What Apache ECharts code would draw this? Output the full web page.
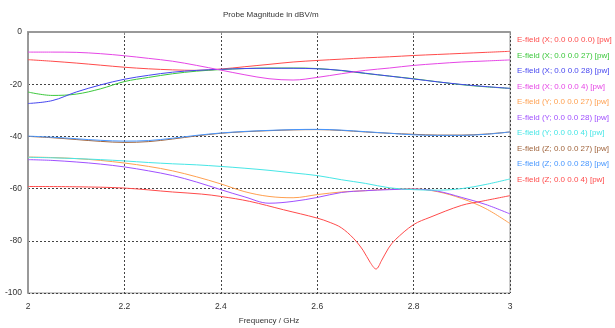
<!DOCTYPE html>
<html>
<head>
<meta charset="utf-8">
<script src="https://cdn.jsdelivr.net/npm/echarts@6/dist/echarts.min.js"></script>
<style>
  html, body { margin: 0; padding: 0; background: #fff; }
  #chart { width: 615px; height: 328px; }
</style>
</head>
<body>
<div id="chart"></div>
<script>
// frequency grid (GHz) shared by most probes
const freq = [2.0, 2.05, 2.1, 2.15, 2.2, 2.25, 2.3, 2.35, 2.4, 2.45, 2.5,
  2.55, 2.6, 2.65, 2.7, 2.75, 2.8, 2.85, 2.9, 2.95, 3.0];

const xProbe000 = [-10.6, -11.2, -11.9, -12.7, -13.5, -14.1, -14.5, -14.7, -14.2, -13.3, -12.4,
  -11.5, -10.9, -10.4, -9.9, -9.5, -9.0, -8.6, -8.2, -7.8, -7.4];
const xProbe27 = [-23.0, -24.3, -23.8, -21.8, -19.0, -17.4, -16.0, -15.0, -14.4, -14.0, -13.8,
  -13.8, -14.0, -14.8, -15.9, -16.9, -17.9, -19.1, -20.2, -21.0, -21.6];
const xProbe28 = [-27.4, -26.3, -23.0, -20.3, -18.1, -16.6, -15.4, -14.7, -14.3, -14.0, -13.9,
  -13.9, -14.1, -14.7, -15.8, -16.9, -18.0, -19.1, -20.1, -20.9, -21.6];
const xProbe4 = [-7.7, -7.7, -7.8, -8.3, -9.1, -10.1, -11.2, -12.8, -14.6, -16.4, -17.9,
  -18.4, -17.4, -16.0, -14.7, -13.8, -12.8, -12.1, -11.5, -11.1, -10.7];
const yProbe27 = [-47.9, -48.1, -48.5, -49.2, -50.2, -51.5, -53.2, -55.5, -58.2, -61.2, -63.0,
  -63.5, -62.3, -61.3, -60.8, -60.2, -60.1, -61.2, -63.8, -67.7, -73.4];
const yProbe28 = [-48.9, -49.2, -49.8, -50.6, -51.7, -53.2, -55.0, -57.5, -60.4, -63.2, -65.6,
  -64.9, -63.4, -61.5, -60.8, -60.4, -60.2, -61.0, -63.4, -66.1, -69.7];
const yProbe4 = [-48.0, -48.2, -48.5, -48.9, -49.4, -50.0, -50.5, -50.9, -51.5, -52.2, -53.0,
  -54.0, -55.0, -56.6, -58.0, -59.7, -60.4, -60.6, -60.0, -58.4, -56.3];
const zProbe27 = [-40.0, -40.5, -41.2, -41.9, -42.3, -42.0, -41.0, -39.8, -38.8, -38.2, -37.8,
  -37.5, -37.4, -37.7, -38.3, -38.8, -39.2, -39.5, -39.5, -39.1, -38.3];
const zProbe28 = [-39.9, -40.3, -40.9, -41.5, -41.8, -41.6, -40.7, -39.6, -38.7, -38.1, -37.7,
  -37.4, -37.3, -37.6, -38.2, -38.8, -39.4, -39.6, -39.6, -39.2, -38.3];

// Z probe at 0.0 0.0 0.4 has a sharp notch, read on its own frequency points
const zProbe4Freq = [2.0, 2.1, 2.2, 2.3, 2.36, 2.4, 2.46, 2.53, 2.6, 2.627, 2.65, 2.675,
  2.695, 2.71, 2.722, 2.734, 2.748, 2.762, 2.8, 2.834, 2.9, 2.94, 3.0];
const zProbe4 = [-59.2, -59.3, -59.8, -61.3, -62.1, -63.0, -64.9, -68.1, -71.3, -73.0, -75.0, -79.0,
  -83.6, -88.3, -90.8, -87.4, -82.8, -79.6, -73.8, -71.0, -66.4, -64.9, -62.7];

const xTicks = [2, 2.2, 2.4, 2.6, 2.8, 3];

const probes = [
  { name: "E-field (X; 0.0 0.0 0.0) [pw]", color: "#ff4b4b", x: freq, y: xProbe000 },
  { name: "E-field (X; 0.0 0.0 27) [pw]", color: "#3cc83c", x: freq, y: xProbe27 },
  { name: "E-field (X; 0.0 0.0 28) [pw]", color: "#4646f0", x: freq, y: xProbe28 },
  { name: "E-field (X; 0.0 0.0 4) [pw]", color: "#e646e6", x: freq, y: xProbe4 },
  { name: "E-field (Y; 0.0 0.0 27) [pw]", color: "#ffa050", x: freq, y: yProbe27 },
  { name: "E-field (Y; 0.0 0.0 28) [pw]", color: "#a050ff", x: freq, y: yProbe28 },
  { name: "E-field (Y; 0.0 0.0 4) [pw]", color: "#46e6e6", x: freq, y: yProbe4 },
  { name: "E-field (Z; 0.0 0.0 27) [pw]", color: "#a0643c", x: freq, y: zProbe27 },
  { name: "E-field (Z; 0.0 0.0 28) [pw]", color: "#4696ff", x: freq, y: zProbe28 },
  { name: "E-field (Z; 0.0 0.0 4) [pw]", color: "#ff4b4b", x: zProbe4Freq, y: zProbe4 },
];

const font = "'Liberation Sans', Arial, sans-serif";

const chart = echarts.init(document.getElementById("chart"));
chart.setOption({
  animation: false,
  backgroundColor: "#fff",
  textStyle: { fontFamily: font },
  title: {
    text: "Probe Magnitude in dBV/m",
    left: 223,
    top: 11,
    padding: 0,
    textStyle: { fontSize: 8, fontWeight: "normal", color: "#333", fontFamily: font },
  },
  legend: {
    orient: "vertical",
    left: 512,
    top: 34,
    padding: 0,
    icon: "none",
    itemWidth: 0,
    itemHeight: 12,
    itemGap: 3.5,
    selectedMode: false,
    data: probes.map((p) => ({
      name: p.name,
      textStyle: { color: p.color, fontSize: 8, lineHeight: 12, fontFamily: font },
    })),
  },
  grid: {
    left: 28, right: 105, top: 32, bottom: 35,
    outerBoundsMode: "none",
    containLabel: false,
    show: true, borderColor: "#999", borderWidth: 1,
  },
  xAxis: {
    type: "value",
    min: 2,
    max: 3,
    interval: 0.2,
    name: "Frequency / GHz",
    nameLocation: "middle",
    nameGap: 24,
    nameTextStyle: { fontSize: 8, color: "#333", fontFamily: font },
    axisLine: { lineStyle: { color: "#999", width: 2 } },
    axisTick: { show: true, length: 3, lineStyle: { color: "#888" } },
    axisLabel: {
      fontSize: 8.5,
      color: "#333",
      margin: 9,
      formatter: (v) => (xTicks.some((t) => Math.abs(t - v) < 1e-6) ? String(+v.toFixed(1)) : ""),
    },
    splitLine: { lineStyle: { color: "#444", type: [2, 2], width: 1 } },
  },
  yAxis: {
    type: "value",
    min: -100,
    max: 0,
    interval: 20,
    axisLine: { show: true, onZero: false, lineStyle: { color: "#999", width: 2 } },
    axisTick: { show: false },
    axisLabel: { fontSize: 8.5, color: "#333", margin: 6 },
    splitLine: { lineStyle: { color: "#444", type: [2, 2], width: 1 } },
  },
  series: probes.map((p) => ({
    name: p.name,
    type: "line",
    smooth: 0.35,
    showSymbol: false,
    color: p.color,
    lineStyle: { width: 1, color: p.color },
    data: p.x.map((f, i) => [f, p.y[i]]),
  })),
});
</script>
</body>
</html>
